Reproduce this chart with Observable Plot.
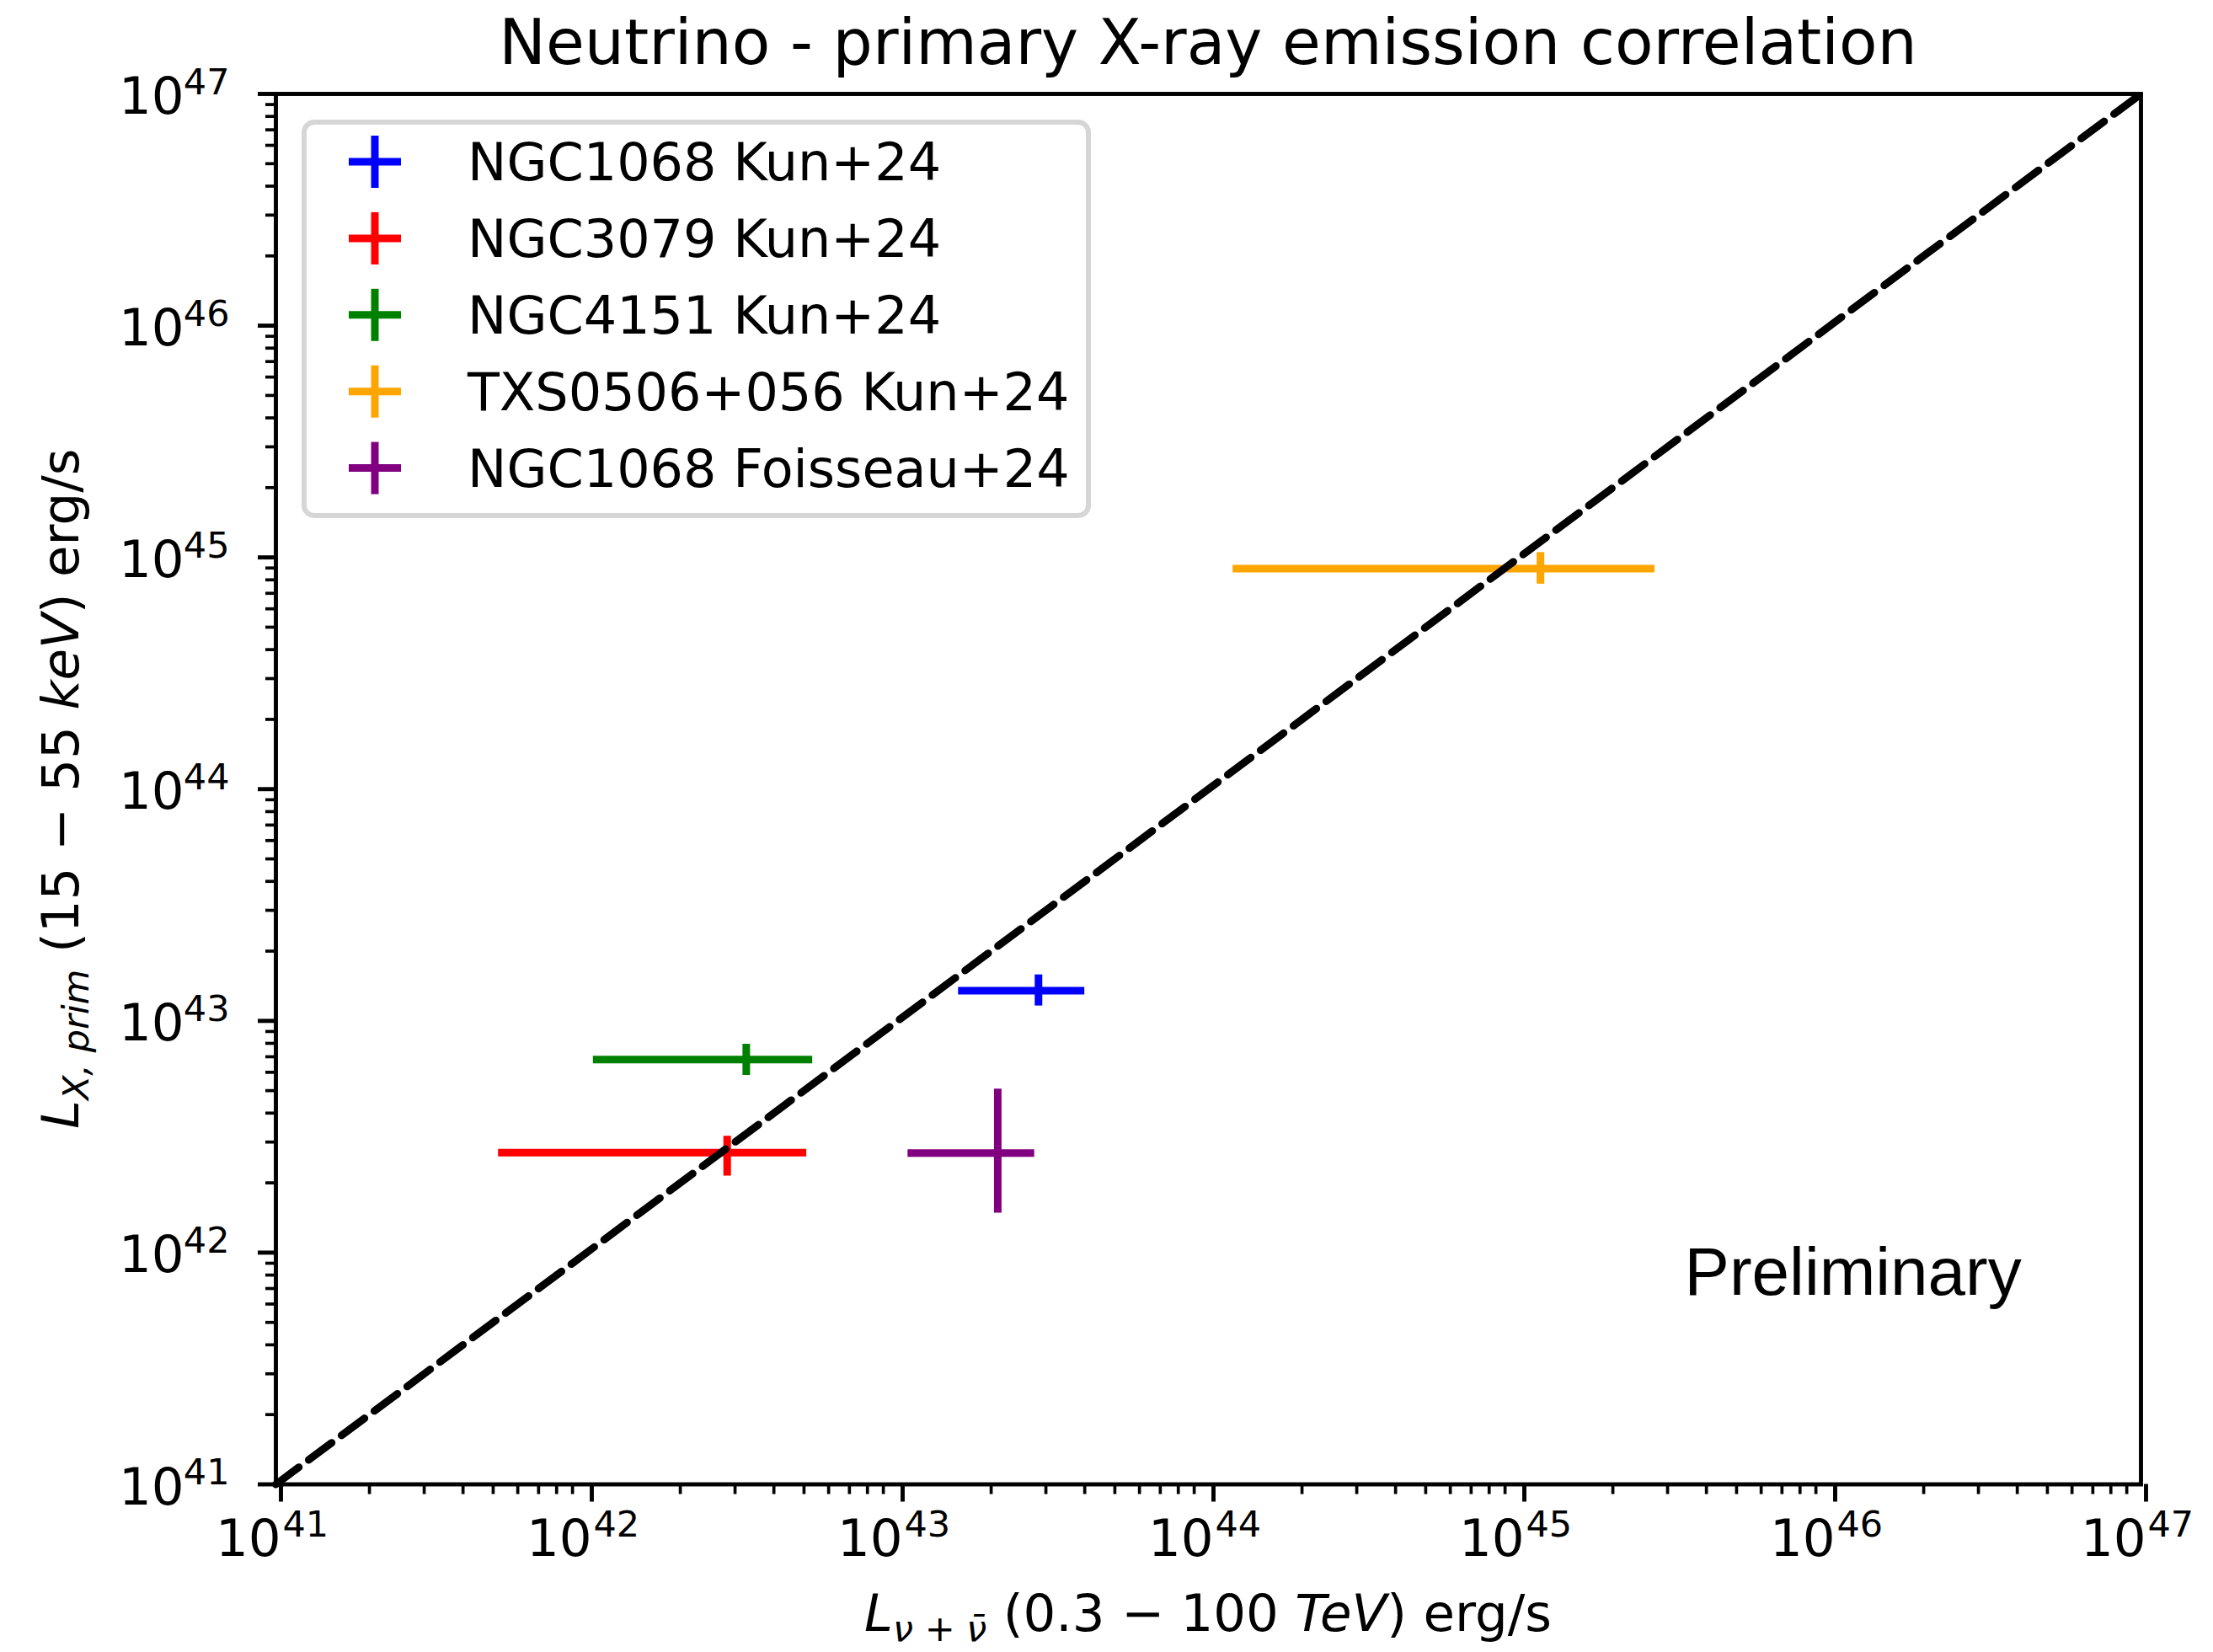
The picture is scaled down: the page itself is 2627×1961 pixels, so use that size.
<!DOCTYPE html>
<html><head><meta charset="utf-8">
<script src="https://cdn.jsdelivr.net/npm/d3@7"></script>
<script src="https://cdn.jsdelivr.net/npm/@observablehq/plot@0.6"></script>
<style>
html,body{margin:0;padding:0;background:#fff;}
#wrap{position:relative;width:2627px;height:1961px;overflow:hidden;}
</style></head><body><div id="wrap"></div>
<script>
// ---------------- data ----------------
const sources = ["NGC1068 Kun+24", "NGC3079 Kun+24", "NGC4151 Kun+24", "TXS0506+056 Kun+24", "NGC1068 Foisseau+24"];
const colors  = ["#0000ff", "#ff0000", "#008000", "#ffa500", "#800080"];
// neutrino luminosity L_nu (0.3-100 TeV), erg/s
const lnu    = [2.84e43, 2.83e42, 3.26e42, 1.17e45, 2.10e43];
const lnuLo  = [1.57e43, 5.2e41, 1.05e42, 1.20e44, 1.08e43];
const lnuHi  = [4.0e43, 5.1e42, 5.33e42, 2.73e45, 2.76e43];
// primary X-ray luminosity L_X (15-55 keV), erg/s
const lx     = [1.35e43, 2.70e42, 6.81e42, 8.95e44, 2.69e42];
const lxLo   = [1.16e43, 2.14e42, 5.82e42, 7.67e44, 1.48e42];
const lxHi   = [1.58e43, 3.18e42, 7.93e42, 1.05e45, 5.08e42];
// 1:1 line
const diagonal = [1e41, 1e47];
// axis ticks
const tickExponents = [41, 42, 43, 44, 45, 46, 47];
const minorMultipliers = [2, 3, 4, 5, 6, 7, 8, 9];
// annotation
const annotationText = "Preliminary";
const annotationX = 3.40e45;
const annotationY = 6.55e41;
const titleText = "Neutrino - primary X-ray emission correlation";

// ---------------- derived ----------------
const majors = tickExponents.map(e => Number("1e" + e));
const minors = tickExponents.slice(0, -1).flatMap(e => minorMultipliers.map(m => Number(m + "e" + e)));
const rows = sources.map((s, i) => ({source: s, color: colors[i], x: lnu[i], xlo: lnuLo[i], xhi: lnuHi[i], y: lx[i], ylo: lxLo[i], yhi: lxHi[i]}));
const diag = diagonal.map(v => ({x: v, y: v}));

const W = 2627, H = 1961;
const mL = 327, mR = 86, mT = 111, mB = 199.5;
const FONT = "'DejaVu Sans', sans-serif";
const expOf = d => String(Math.round(Math.log10(d)));

const chart = Plot.plot({
  width: W, height: H,
  marginLeft: mL, marginRight: mR, marginTop: mT, marginBottom: mB,
  x: {type: "log", domain: [1e41, 1e47]},
  y: {type: "log", domain: [1e41, 1e47]},
  color: {type: "identity"},
  style: {fontFamily: FONT, background: "white", color: "black", overflow: "visible"},
  marks: [
    Plot.ruleY(rows, {y: "y", x1: "xlo", x2: "xhi", stroke: d => d.color, strokeWidth: 9}),
    Plot.ruleX(rows, {x: "x", y1: "ylo", y2: "yhi", stroke: d => d.color, strokeWidth: 9}),
    Plot.line(diag, {x: "x", y: "y", stroke: "black", strokeWidth: 9, strokeDasharray: "34 14.6"}),
    Plot.text([annotationText], {x: () => annotationX, y: () => annotationY, text: d => d, textAnchor: "start", lineAnchor: "bottom", fontSize: 80, fontFamily: "'Liberation Sans', Arial, sans-serif", fill: "black"}),
    // x axis
    Plot.axisX(minors, {tickSize: 12, strokeWidth: 3.7, tickFormat: () => "", label: null}),
    Plot.axisX(majors, {tickSize: 21, strokeWidth: 4.9, tickPadding: 21, tickFormat: () => "10", fontSize: 61, textAnchor: "end", dx: 6, label: null}),
    Plot.axisX(majors, {tickSize: 0, tickPadding: 31.8, tickFormat: expOf, fontSize: 43, textAnchor: "start", dx: 8, label: null}),
    // y axis
    Plot.axisY(minors, {tickSize: 12, strokeWidth: 3.7, tickFormat: () => "", label: null}),
    Plot.axisY(majors, {tickSize: 21, strokeWidth: 4.9, tickFormat: () => "", label: null}),
    Plot.text(majors, {y: d => d, frameAnchor: "left", text: () => "10", textAnchor: "end", lineAnchor: "middle", dx: -109, dy: 4, fontSize: 61, fill: "black"}),
    Plot.text(majors, {y: d => d, frameAnchor: "left", text: expOf, textAnchor: "end", lineAnchor: "bottom", dx: -55, dy: 0, fontSize: 43, fill: "black"}),
    Plot.frame({strokeWidth: 4.9})
  ]
});
document.getElementById("wrap").appendChild(chart);

// ---------------- title, axis labels, legend ----------------
const svg = d3.select(chart);
const cx = (mL + (W - mR)) / 2;
const cy = (mT + (H - mB)) / 2;

svg.append("text").attr("x", cx).attr("y", 76).attr("text-anchor", "middle")
  .attr("font-size", 74.5).attr("font-family", FONT).attr("fill", "black").text(titleText);

function addMath(t, parts) {
  for (const p of parts) {
    const ts = t.append("tspan").text(p.t);
    if (p.i) ts.attr("font-style", "italic");
    if (p.s) ts.attr("font-size", p.s);
    if (p.dy) ts.attr("dy", p.dy);
  }
}
const xl = svg.append("text").attr("x", cx).attr("y", 1936).attr("text-anchor", "middle")
  .attr("font-size", 61).attr("font-family", FONT).attr("fill", "black");
addMath(xl, [
  {t: "L", i: true},
  {t: "ν", i: true, s: 43, dy: 12},
  {t: " + ", s: 43},
  {t: "ν̄", i: true, s: 43},
  {t: " (0.3 − 100 ", dy: -12},
  {t: "TeV", i: true},
  {t: ") erg/s"}
]);
const yl = svg.append("text").attr("transform", `translate(93,${cy}) rotate(-90)`).attr("text-anchor", "middle")
  .attr("font-size", 61).attr("font-family", FONT).attr("fill", "black");
addMath(yl, [
  {t: "L", i: true},
  {t: "X, prim", i: true, s: 43, dy: 12},
  {t: " (15 − 55 ", dy: -12},
  {t: "keV", i: true},
  {t: ") erg/s"}
]);

// legend
const lg = svg.append("g");
lg.append("rect").attr("x", 361).attr("y", 145).attr("width", 931).attr("height", 467).attr("rx", 12)
  .attr("fill", "white").attr("fill-opacity", 0.8).attr("stroke", "#d6d6d6").attr("stroke-width", 6);
sources.forEach((s, i) => {
  const yy = 192 + i * 90.9;
  lg.append("line").attr("x1", 445 - 31).attr("x2", 445 + 31).attr("y1", yy).attr("y2", yy).attr("stroke", colors[i]).attr("stroke-width", 9);
  lg.append("line").attr("x1", 445).attr("x2", 445).attr("y1", yy - 31).attr("y2", yy + 31).attr("stroke", colors[i]).attr("stroke-width", 9);
  lg.append("text").attr("x", 555).attr("y", yy + 22).attr("text-anchor", "start").attr("font-size", 62).attr("font-family", FONT).attr("fill", "black").text(s);
});
</script></body></html>
